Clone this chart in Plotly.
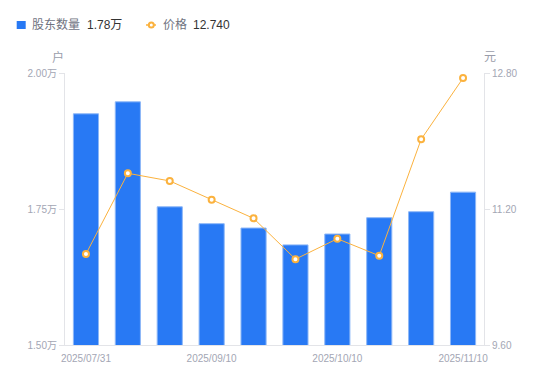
import plotly.graph_objects as go

dates = ["2025/07/31", "2025/08/10", "2025/08/20", "2025/09/10", "2025/09/19",
         "2025/09/30", "2025/10/10", "2025/10/20", "2025/10/31", "2025/11/10"]
holders = [19250, 19470, 17540, 17230, 17150, 16840, 17040, 17340, 17450, 17810]
price = [10.67, 11.62, 11.53, 11.31, 11.09, 10.61, 10.85, 10.65, 12.02, 12.74]
tick_dates = ["2025/07/31", "2025/09/10", "2025/10/10", "2025/11/10"]
left_ticks = [15000, 17500, 20000]
left_ticktext = ["1.50万", "1.75万", "2.00万"]
right_ticks = [9.6, 11.2, 12.8]

BLUE = "#2879F4"
ORANGE = "#FBB23E"
AXIS = "#E3E4E8"
TICKC = "#A3A6B4"
FONT = "Liberation Sans, Noto Sans CJK SC, sans-serif"

# page body has an 8px margin; work in page pixels and convert
OFF = 8
W, H = 550 - 2 * OFF, 381 - 2 * OFF
L, R, T, B = 65 - OFF, 484 - OFF, 73 - OFF, 345 - OFF

fig = go.Figure()
fig.add_trace(go.Bar(x=dates, y=holders, marker=dict(color=BLUE, line=dict(color="#8DB7F7", width=1)),
                     yaxis="y", name="股东数量"))
fig.add_trace(go.Scatter(x=dates, y=price, yaxis="y2", mode="lines+markers", name="价格",
                         line=dict(color=ORANGE, width=1),
                         marker=dict(symbol="circle", size=6, color="white",
                                     line=dict(color=ORANGE, width=2))))


def px(x):
    return (x - OFF - L) / (R - L)


def py(y):
    return (B - (y - OFF)) / (B - T)


fig.update_layout(
    template="none",
    width=W, height=H,
    margin=dict(l=L, r=W - R, t=T, b=H - B, pad=0, autoexpand=False),
    paper_bgcolor="white", plot_bgcolor="white",
    showlegend=False,
    bargap=0.4,
    font=dict(family=FONT, size=10, color=TICKC),
    xaxis=dict(type="category", range=[-0.5, len(dates) - 0.5], tickvals=tick_dates, ticktext=tick_dates,
               automargin=False, showline=True, linecolor=AXIS, linewidth=1, ticks="", showgrid=False,
               ticklabelstandoff=4,
               tickfont=dict(size=10, color=TICKC), tickangle=0),
    yaxis=dict(range=[15000, 20000], tickvals=left_ticks, ticktext=left_ticktext, automargin=False,
               showline=True, linecolor=AXIS, linewidth=1, ticks="outside", ticklen=5,
               tickcolor=AXIS, showgrid=False, zeroline=False,
               tickfont=dict(size=10, color=TICKC)),
    yaxis2=dict(range=[9.6, 12.8], tickvals=right_ticks, tickformat=".2f", overlaying="y",
                side="right", showline=True, linecolor=AXIS, linewidth=1, ticks="outside",
                ticklen=5, tickcolor=AXIS, showgrid=False, zeroline=False, automargin=False,
                tickfont=dict(size=10, color=TICKC)),
)

# axis unit labels
fig.add_annotation(x=px(58), y=py(57), xref="paper", yref="paper", text="户", showarrow=False,
                   font=dict(size=12, color="#9A9DAA"), xanchor="center", yanchor="middle")
fig.add_annotation(x=px(490), y=py(57), xref="paper", yref="paper", text="元", showarrow=False,
                   font=dict(size=12, color="#9A9DAA"), xanchor="center", yanchor="middle")

# custom legend
fig.add_shape(type="rect", xref="paper", yref="paper", x0=px(16.7), x1=px(25.7), y0=py(29), y1=py(21),
              fillcolor=BLUE, line=dict(width=0))
fig.add_annotation(x=px(29.5), y=py(25), xref="paper", yref="paper", showarrow=False, xanchor="left",
                   yanchor="middle", text="股东数量", font=dict(size=12, color="#70737F"))
fig.add_annotation(x=px(84.5), y=py(25), xref="paper", yref="paper", showarrow=False, xanchor="left",
                   yanchor="middle", text="1.78万", font=dict(size=12, color="#333333"))
fig.add_shape(type="line", xref="paper", yref="paper", x0=px(146), x1=px(156), y0=py(25), y1=py(25),
              line=dict(color=ORANGE, width=1.5))
fig.add_shape(type="circle", xref="paper", yref="paper", x0=px(148.8), x1=px(153.8), y0=py(27.5), y1=py(22.5),
              fillcolor="white", line=dict(color=ORANGE, width=2))
fig.add_annotation(x=px(160.5), y=py(25), xref="paper", yref="paper", showarrow=False, xanchor="left",
                   yanchor="middle", text="价格", font=dict(size=12, color="#70737F"))
fig.add_annotation(x=px(191), y=py(25), xref="paper", yref="paper", showarrow=False, xanchor="left",
                   yanchor="middle", text="12.740", font=dict(size=12, color="#333333"))

fig.write_html("out.html")
